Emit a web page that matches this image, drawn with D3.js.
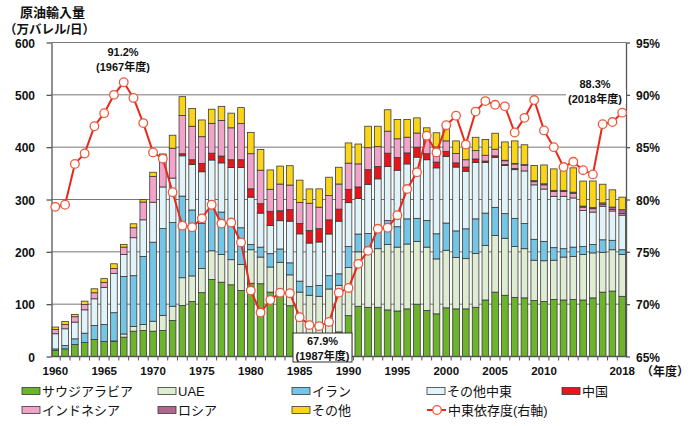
<!DOCTYPE html>
<html><head><meta charset="utf-8">
<script src="https://cdn.jsdelivr.net/npm/d3@7"></script>
<style>
body{margin:0;background:#fff}
svg{display:block}
text{font-family:"Liberation Sans","Noto Sans CJK JP",sans-serif;fill:#111}
</style>
</head><body>
<svg id="c" width="690" height="426"></svg>
<script>
const years = [1960,1961,1962,1963,1964,1965,1966,1967,1968,1969,1970,1971,1972,1973,1974,1975,1976,1977,1978,1979,
1980,1981,1982,1983,1984,1985,1986,1987,1988,1989,1990,1991,1992,1993,1994,1995,1996,1997,1998,1999,
2000,2001,2002,2003,2004,2005,2006,2007,2008,2009,2010,2011,2012,2013,2014,2015,2016,2017,2018];

const saudi = [11.5,14.6,23,26.8,32.5,28.7,28.7,37,48.4,49.7,48.4,49.7,69,97.5,105,122,147,142,137,126,
140,139,123,120,97,40,42,38,42,47,78,96,94,94,89,87,91,100,88,81.5,
93,91,91,94,108,123,117,113,112,107,105,109,108,109,108,112,123,125,115];
const uae = [0,0,0,0,0,0,1,6,9,11.5,19,28.7,27,53,49,46,55,53,48,50,
64,51,48,60,59,83,75,77,87,89,92,104,110,112,125,122,124,120,121,105,
110,98,96,103,104,108,109,97,94,77,78,75,82,82,87,86,76,79,80];
const iran = [3,6.4,10.8,17.8,26.8,32.5,54,110,97,130,151,166,160,156,126,86,92,81,72,70,
10,19,25.5,25.5,23,21,17,21,25.5,22,40,34,31,38,46,39,48,44,51,48,
52,51,57,66,62,54,47,54,48,40,37,24,16,18,15,16,24,18,9];
const otherME = [29,32,32,44.6,51,71,75,42,72.6,70,76.4,79.6,85,77,87,99,81.5,94,104,115,
90.5,65,54,54,79.6,90.4,82.8,82.8,79.6,100.6,84,68,94,95.5,103,108,105,117,116,126,
127,122,110,108,97,95.5,92,93,100.6,104,100,98,100,94,69,62,64,56,66];
const china = [0,0,0,0,0,0,0,0,0,0,0,0,0,4,9,16,13,13,15,15,
16,18,27,19,22,20,24,25.5,27,23,25.5,22,28,23.5,25.5,24,21,19,11.5,11,
10,8,8,6.4,2.5,3,2,2.5,0,0,0,0,0,0,0,0,0,0,0];
const indonesia = [8.3,8.3,10.2,10.2,11.5,9.6,9.6,14,19,34,49,60,57,73,64,51,57,68,61,69,
67,64,42,51,47,40,52,41,46.5,48,50,44,42,38,42,36,30,27,31.5,29,
20,18,14,16,11,12.7,7,8.5,11,6,8,9.5,9.5,9,6.4,6.4,3,3,3];
const russia = [0,0,0,0,0,0,0,0,0,0,0,0,0,0,0,0,0,0,0,0,
0,0,0,0,0,0,0,0,0,0,0,0,0,0,0,0,0,0,0,0,
0,0,0,0,0,0,1,1,1,2,2,2,2,2,2,2,3.5,4.5,7.5];
const others = [4.5,5.7,4.5,6.4,7.6,7,8.9,5,7.6,4.5,8.3,3,24.8,36,34,32,27,27,28,30.6,
40.8,39.5,37,34.4,37,42.6,27.4,35,35,32,38.6,38,41,39,41,37,34,29,18,27,
25,24,25.5,25.5,30,30.5,35,43,38,29,36,41,46,46.5,47.8,51,35.7,33,24];
const meShare = [79.3,79.5,83.4,84.4,87.0,88.25,90.0,91.2,89.7,87.3,84.5,83.9,80.7,77.5,77.35,78.2,79.5,77.7,77.8,75.9,
71.3,69.2,70.4,71.1,71.05,68.75,68.0,67.9,68.3,71.1,71.55,73.85,75.1,77.2,77.3,78.5,81.0,82.6,86.1,84.5,
87.1,88.0,85.25,88.4,89.4,89.05,88.9,86.4,87.8,89.5,86.6,85.0,83.1,83.6,82.8,82.4,87.2,87.4,88.3];

const leftTicks = [0,100,200,300,400,500,600];
const rightTicks = [65,70,75,80,85,90,95];
const xLabelYears = [1960,1965,1970,1975,1980,1985,1990,1995,2000,2005,2010,2018];

const seriesKeys = ["saudi","uae","iran","otherME","china","indonesia","russia","others"];
const seriesNames = {saudi:"サウジアラビア",uae:"UAE",iran:"イラン",otherME:"その他中東",china:"中国",indonesia:"インドネシア",russia:"ロシア",others:"その他"};
const colors = {saudi:"#6cb42c",uae:"#deedd2",iran:"#74c6e6",otherME:"#e0f3f8",china:"#e8161c",indonesia:"#f2a3c9",russia:"#b0668f",others:"#f9d418"};
const lineName = "中東依存度(右軸)";

const table = years.map((yr,i)=>({year:yr,saudi:saudi[i],uae:uae[i],iran:iran[i],otherME:otherME[i],china:china[i],indonesia:indonesia[i],russia:russia[i],others:others[i]}));

const svg = d3.select("#c");
const X0=51.5, X1=626, YT=42.5, YB=356.5;
const x = d3.scaleBand().domain(years).range([X0,X1]).paddingInner(0.32).paddingOuter(0.05);
const yL = d3.scaleLinear().domain([0,600]).range([YB,YT]);
const yR = d3.scaleLinear().domain([65,95]).range([YB,YT]);
const bw = x.bandwidth();

// gridlines
svg.append("g").selectAll("line").data(leftTicks.filter(d=>d>0)).join("line")
  .attr("x1",X0).attr("x2",X1).attr("y1",d=>yL(d)).attr("y2",d=>yL(d))
  .attr("stroke","#777").attr("stroke-width",1);

// bars
const stacked = d3.stack().keys(seriesKeys)(table);
svg.append("g").selectAll("g").data(stacked).join("g")
  .attr("fill",d=>colors[d.key])
  .selectAll("rect").data(d=>d.filter(s=>s[1]-s[0]>0)).join("rect")
  .attr("x",d=>x(d.data.year)).attr("width",bw)
  .attr("y",d=>yL(d[1])).attr("height",d=>yL(d[0])-yL(d[1]))
  .attr("stroke","#3a3a3a").attr("stroke-width",0.8);

// axes
const axL = svg.append("g").attr("transform",`translate(${X0},0)`)
  .call(d3.axisLeft(yL).tickValues(leftTicks).tickSize(5).tickSizeOuter(0).tickPadding(11.5).tickFormat(d3.format("d")));
const axR = svg.append("g").attr("transform",`translate(${X1},0)`)
  .call(d3.axisRight(yR).tickValues(rightTicks).tickSize(4).tickSizeOuter(0).tickPadding(6).tickFormat(d=>d+"%"));
[axL,axR].forEach(a=>{
  a.selectAll("path,line").attr("stroke","#555").attr("stroke-width",1.3);
  a.selectAll("text").style("font-size","12px").style("font-weight","bold").attr("fill","#111").attr("dy","0.4em");
});
// x axis
svg.append("line").attr("x1",X0).attr("x2",X1).attr("y1",YB).attr("y2",YB).attr("stroke","#555").attr("stroke-width",1.3);
const step = x.step();
svg.append("g").selectAll("line").data(years.slice(1)).join("line")
  .attr("x1",d=>x(d)-(step-bw)/2).attr("x2",d=>x(d)-(step-bw)/2)
  .attr("y1",YB).attr("y2",YB+4).attr("stroke","#555").attr("stroke-width",1);
const axB = svg.append("g").attr("transform",`translate(0,${YB})`)
  .call(d3.axisBottom(x).tickValues(xLabelYears).tickSize(0).tickPadding(10));
axB.select(".domain").remove();
axB.selectAll("text").style("font-size","11.5px").style("font-weight","bold").attr("fill","#111");
svg.append("text").attr("x",641).attr("y",376).style("font-size","12px").style("font-weight","bold").text("（年度）");

// titles
svg.append("text").attr("x",20).attr("y",17).style("font-size","13px").style("font-weight","bold").text("原油輸入量");
svg.append("text").attr("x",4).attr("y",34).style("font-size","12.5px").style("font-weight","bold").text("（万バレル/日）");

// annotation bg 2018
svg.append("rect").attr("x",566).attr("y",89).attr("width",60).attr("height",15).attr("fill","#fff");

// line
const cx = d=>x(d)+bw/2;
svg.append("path").datum(years)
  .attr("d",d3.line().x(d=>cx(d)).y((d,i)=>yR(meShare[i])))
  .attr("fill","none").attr("stroke","#e8281c").attr("stroke-width",2);
svg.append("g").selectAll("circle").data(years).join("circle")
  .attr("cx",d=>cx(d)).attr("cy",(d,i)=>yR(meShare[i])).attr("r",4.3)
  .attr("fill","#fff").attr("stroke","#ee5a3e").attr("stroke-width",1.3);

// annotations
function ann(cxp, y1, t1, t2){
  svg.append("text").attr("x",cxp).attr("y",y1).attr("text-anchor","middle").style("font-size","11px").style("font-weight","bold").text(t1);
  svg.append("text").attr("x",cxp).attr("y",y1+15).attr("text-anchor","middle").style("font-size","11px").style("font-weight","bold").text(t2);
}
ann(123,56,"91.2%","(1967年度)");
ann(595,88,"88.3%","(2018年度)");
svg.append("rect").attr("x",293).attr("y",333).attr("width",59).attr("height",29).attr("fill","#fff").attr("stroke","#333").attr("stroke-width",1);
ann(322.5,345,"67.9%","(1987年度)");

// legend
const legX = [22,158,292,427,562];
const legend = [
  {k:"saudi",c:0,r:0},{k:"uae",c:1,r:0},{k:"iran",c:2,r:0},{k:"otherME",c:3,r:0},{k:"china",c:4,r:0},
  {k:"indonesia",c:0,r:1},{k:"russia",c:1,r:1},{k:"others",c:2,r:1}
];
const legY = [391,410];
legend.forEach(l=>{
  const gx = legX[l.c], gy = legY[l.r];
  svg.append("rect").attr("x",gx).attr("y",gy-3.5).attr("width",18).attr("height",7)
    .attr("fill",colors[l.k]).attr("stroke","#3a3a3a").attr("stroke-width",0.8);
  svg.append("text").attr("x",gx+20).attr("y",gy+4.5).style("font-size","13px").text(seriesNames[l.k]);
});
{
  const gx = legX[3], gy = legY[1];
  svg.append("line").attr("x1",gx).attr("x2",gx+19).attr("y1",gy).attr("y2",gy).attr("stroke","#e8281c").attr("stroke-width",2);
  svg.append("circle").attr("cx",gx+10).attr("cy",gy).attr("r",4.3).attr("fill","#fff").attr("stroke","#ee5a3e").attr("stroke-width",1.3);
  svg.append("text").attr("x",gx+21).attr("y",gy+4.5).style("font-size","13px").text(lineName);
}
</script>
</body></html>
